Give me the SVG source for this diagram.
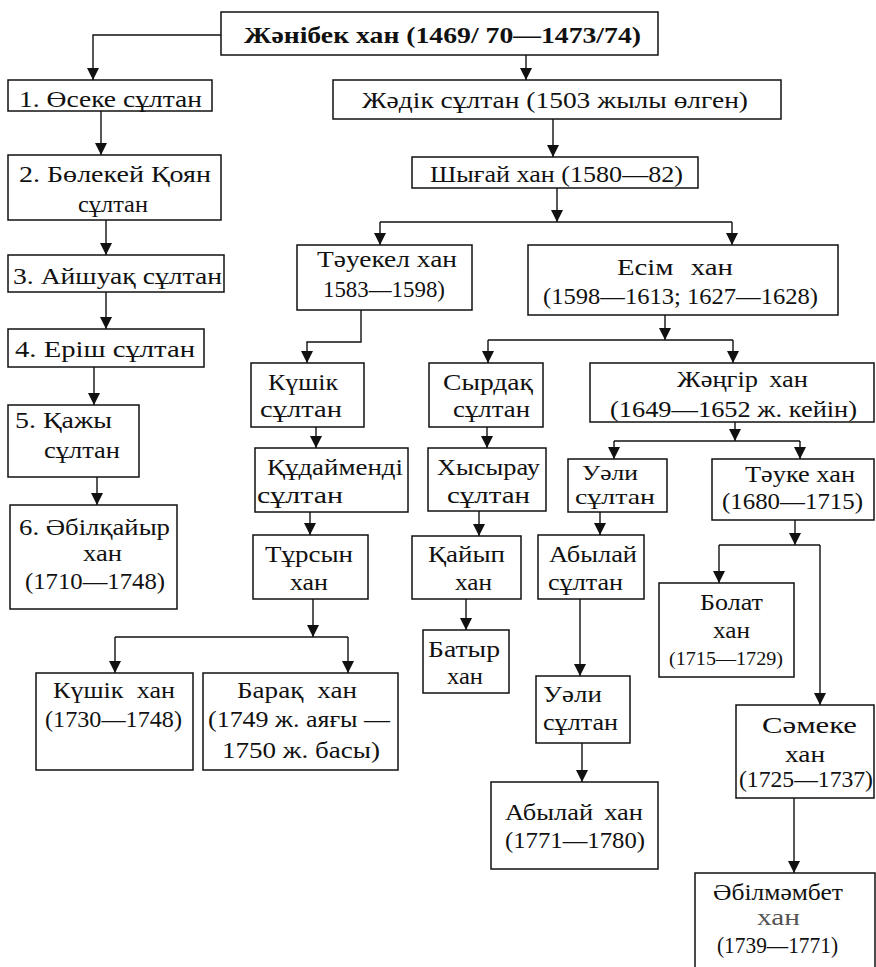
<svg xmlns="http://www.w3.org/2000/svg" width="876" height="967" viewBox="0 0 876 967">
<style>
rect{fill:#fff;stroke:#111;stroke-width:1.5}
text{font-family:"Liberation Serif","DejaVu Serif",serif;font-size:23px;fill:#111}
text.b{font-weight:bold;font-size:23px}
text.s{font-size:18px}
text.t{font-size:21px}
text.g{fill:#555}
#connectors path{fill:none;stroke:#111;stroke-width:1.4}
</style>
<defs>
<marker id="a" markerUnits="userSpaceOnUse" markerWidth="12" markerHeight="13" refX="12" refY="6" orient="auto" viewBox="0 0 12 12">
<path d="M0,0 L12,6 L0,12 Z" fill="#111"/>
</marker>
</defs>
<rect x="0" y="0" width="876" height="967" style="stroke:none"/>
<g id="connectors">
<path d="M221,35 H93 V80" marker-end="url(#a)"/>
<path d="M526,55 V80" marker-end="url(#a)"/>
<path d="M101,111 V155" marker-end="url(#a)"/>
<path d="M106,220 V255" marker-end="url(#a)"/>
<path d="M106,292 V329" marker-end="url(#a)"/>
<path d="M94,367 V405" marker-end="url(#a)"/>
<path d="M97,477 V505" marker-end="url(#a)"/>
<path d="M553,119 V157" marker-end="url(#a)"/>
<path d="M557,188 V222" marker-end="url(#a)"/>
<path d="M380,222 H732"/>
<path d="M380,222 V245" marker-end="url(#a)"/>
<path d="M732,222 V245" marker-end="url(#a)"/>
<path d="M361,310 V342 H307 V363" marker-end="url(#a)"/>
<path d="M316,427 V448" marker-end="url(#a)"/>
<path d="M310,512 V535" marker-end="url(#a)"/>
<path d="M313,599 V637" marker-end="url(#a)"/>
<path d="M115,637 H348"/>
<path d="M115,637 V673" marker-end="url(#a)"/>
<path d="M348,637 V673" marker-end="url(#a)"/>
<path d="M665,315 V340" marker-end="url(#a)"/>
<path d="M488,340 H733"/>
<path d="M488,340 V363" marker-end="url(#a)"/>
<path d="M733,340 V363" marker-end="url(#a)"/>
<path d="M487,427 V448" marker-end="url(#a)"/>
<path d="M479,511 V536" marker-end="url(#a)"/>
<path d="M466,599 V630" marker-end="url(#a)"/>
<path d="M735,422 V441" marker-end="url(#a)"/>
<path d="M614,441 H800"/>
<path d="M614,441 V459" marker-end="url(#a)"/>
<path d="M800,441 V459" marker-end="url(#a)"/>
<path d="M600,512 V535" marker-end="url(#a)"/>
<path d="M580,599 V676" marker-end="url(#a)"/>
<path d="M582,743 V782" marker-end="url(#a)"/>
<path d="M795,520 V545" marker-end="url(#a)"/>
<path d="M719,545 H820"/>
<path d="M719,545 V583" marker-end="url(#a)"/>
<path d="M820,545 V705" marker-end="url(#a)"/>
<path d="M794,798 V873" marker-end="url(#a)"/>
</g>
<g id="zhanibek"><rect x="221" y="12" width="437" height="43"/><text class="b" x="244" y="43" textLength="397" lengthAdjust="spacingAndGlyphs">Жәнібек хан (1469/ 70—1473/74)</text></g>
<g id="oseke"><rect x="8" y="80" width="204" height="31"/><text x="19" y="107" textLength="183" lengthAdjust="spacingAndGlyphs">1. Өсеке сұлтан</text></g>
<g id="bolekei"><rect x="8" y="155" width="213" height="65"/><text x="19" y="182" textLength="192" lengthAdjust="spacingAndGlyphs">2. Бөлекей Қоян</text><text x="78" y="212" textLength="70" lengthAdjust="spacingAndGlyphs">сұлтан</text></g>
<g id="aishuak"><rect x="8" y="255" width="216" height="37"/><text x="13" y="284" textLength="209" lengthAdjust="spacingAndGlyphs">3. Айшуақ сұлтан</text></g>
<g id="erish"><rect x="8" y="329" width="196" height="38"/><text x="15" y="357" textLength="180" lengthAdjust="spacingAndGlyphs">4. Еріш сұлтан</text></g>
<g id="kazhy"><rect x="8" y="405" width="131" height="72"/><text x="15" y="428" textLength="97" lengthAdjust="spacingAndGlyphs">5. Қажы</text><text x="44" y="458" textLength="76" lengthAdjust="spacingAndGlyphs">сұлтан</text></g>
<g id="abilkaiyr"><rect x="10" y="505" width="167" height="104"/><text x="19" y="535" textLength="151" lengthAdjust="spacingAndGlyphs">6. Әбілқайыр</text><text x="83" y="561" textLength="39" lengthAdjust="spacingAndGlyphs">хан</text><text x="25" y="589" textLength="140" lengthAdjust="spacingAndGlyphs">(1710—1748)</text></g>
<g id="zhadik"><rect x="333" y="80" width="448" height="39"/><text x="362" y="108" textLength="386" lengthAdjust="spacingAndGlyphs">Жәдік сұлтан (1503 жылы өлген)</text></g>
<g id="shygai"><rect x="412" y="157" width="286" height="31"/><text x="430" y="182" textLength="253" lengthAdjust="spacingAndGlyphs">Шығай хан (1580—82)</text></g>
<g id="tauekel"><rect x="297" y="245" width="175" height="65"/><text x="317" y="267" textLength="140" lengthAdjust="spacingAndGlyphs">Тәуекел хан</text><text x="323" y="297" textLength="122" lengthAdjust="spacingAndGlyphs">1583—1598)</text></g>
<g id="esim"><rect x="528" y="245" width="310" height="70"/><text x="617" y="275" textLength="116" lengthAdjust="spacingAndGlyphs" style="word-spacing:8px">Есім хан</text><text x="543" y="304" textLength="275" lengthAdjust="spacingAndGlyphs">(1598—1613; 1627—1628)</text></g>
<g id="kushik-sultan"><rect x="251" y="363" width="113" height="64"/><text x="268" y="390" textLength="70" lengthAdjust="spacingAndGlyphs">Күшік</text><text x="260" y="417" textLength="82" lengthAdjust="spacingAndGlyphs">сұлтан</text></g>
<g id="kudaimendi"><rect x="255" y="448" width="153" height="64"/><text x="267" y="475" textLength="136" lengthAdjust="spacingAndGlyphs">Құдайменді</text><text x="257" y="503" textLength="86" lengthAdjust="spacingAndGlyphs">сұлтан</text></g>
<g id="tursyn"><rect x="253" y="535" width="115" height="64"/><text x="265" y="562" textLength="88" lengthAdjust="spacingAndGlyphs">Тұрсын</text><text x="290" y="590" textLength="38" lengthAdjust="spacingAndGlyphs">хан</text></g>
<g id="kushik-khan"><rect x="36" y="673" width="157" height="97"/><text x="53" y="698" textLength="122" lengthAdjust="spacingAndGlyphs" style="word-spacing:6px">Күшік хан</text><text x="45" y="727" textLength="137" lengthAdjust="spacingAndGlyphs">(1730—1748)</text></g>
<g id="barak"><rect x="203" y="673" width="195" height="97"/><text x="237" y="698" textLength="120" lengthAdjust="spacingAndGlyphs" style="word-spacing:6px">Барақ хан</text><text x="208" y="727" textLength="182" lengthAdjust="spacingAndGlyphs">(1749 ж. аяғы —</text><text x="222" y="758" textLength="158" lengthAdjust="spacingAndGlyphs">1750 ж. басы)</text></g>
<g id="syrdak"><rect x="429" y="363" width="114" height="64"/><text x="443" y="390" textLength="90" lengthAdjust="spacingAndGlyphs">Сырдақ</text><text x="453" y="417" textLength="77" lengthAdjust="spacingAndGlyphs">сұлтан</text></g>
<g id="khysyrau"><rect x="428" y="448" width="118" height="63"/><text x="437" y="475" textLength="103" lengthAdjust="spacingAndGlyphs">Хысырау</text><text x="447" y="503" textLength="83" lengthAdjust="spacingAndGlyphs">сұлтан</text></g>
<g id="kaiyp"><rect x="412" y="536" width="109" height="63"/><text x="428" y="562" textLength="77" lengthAdjust="spacingAndGlyphs">Қайып</text><text x="455" y="590" textLength="37" lengthAdjust="spacingAndGlyphs">хан</text></g>
<g id="batyr"><rect x="423" y="630" width="86" height="63"/><text x="428" y="657" textLength="72" lengthAdjust="spacingAndGlyphs">Батыр</text><text x="447" y="684" textLength="36" lengthAdjust="spacingAndGlyphs">хан</text></g>
<g id="zhangir"><rect x="590" y="363" width="284" height="59"/><text x="677" y="387" textLength="131" lengthAdjust="spacingAndGlyphs" style="word-spacing:4px">Жәңгір хан</text><text x="610" y="417" textLength="247" lengthAdjust="spacingAndGlyphs">(1649—1652 ж. кейін)</text></g>
<g id="uali-1"><rect x="568" y="459" width="99" height="53"/><text class="t" x="582" y="480" textLength="56" lengthAdjust="spacingAndGlyphs">Уәли</text><text class="t" x="575" y="504" textLength="80" lengthAdjust="spacingAndGlyphs">сұлтан</text></g>
<g id="tauke"><rect x="712" y="459" width="162" height="61"/><text x="745" y="482" textLength="110" lengthAdjust="spacingAndGlyphs">Тәуке хан</text><text x="722" y="509" textLength="141" lengthAdjust="spacingAndGlyphs">(1680—1715)</text></g>
<g id="abylai-sultan"><rect x="538" y="535" width="106" height="64"/><text x="549" y="562" textLength="88" lengthAdjust="spacingAndGlyphs">Абылай</text><text x="548" y="590" textLength="75" lengthAdjust="spacingAndGlyphs">сұлтан</text></g>
<g id="uali-2"><rect x="536" y="676" width="94" height="67"/><text x="543" y="702" textLength="59" lengthAdjust="spacingAndGlyphs">Уәли</text><text x="543" y="730" textLength="75" lengthAdjust="spacingAndGlyphs">сұлтан</text></g>
<g id="abylai-khan"><rect x="491" y="782" width="167" height="87"/><text x="505" y="820" textLength="138" lengthAdjust="spacingAndGlyphs" style="word-spacing:4px">Абылай хан</text><text x="505" y="848" textLength="140" lengthAdjust="spacingAndGlyphs">(1771—1780)</text></g>
<g id="bolat"><rect x="659" y="583" width="135" height="94"/><text x="700" y="610" textLength="63" lengthAdjust="spacingAndGlyphs">Болат</text><text x="713" y="638" textLength="37" lengthAdjust="spacingAndGlyphs">хан</text><text class="s" x="669" y="665" textLength="114" lengthAdjust="spacingAndGlyphs">(1715—1729)</text></g>
<g id="sameke"><rect x="736" y="705" width="138" height="93"/><text x="762" y="733" textLength="95" lengthAdjust="spacingAndGlyphs">Сәмеке</text><text x="785" y="762" textLength="40" lengthAdjust="spacingAndGlyphs">хан</text><text x="739" y="787" textLength="134" lengthAdjust="spacingAndGlyphs">(1725—1737)</text></g>
<g id="abilmambet"><rect x="695" y="873" width="180" height="110"/><text x="713" y="900" textLength="130" lengthAdjust="spacingAndGlyphs">Әбілмәмбет</text><text class="g" x="757" y="925" textLength="43" lengthAdjust="spacingAndGlyphs">хан</text><text x="717" y="953" textLength="121" lengthAdjust="spacingAndGlyphs">(1739—1771)</text></g>
</svg>
